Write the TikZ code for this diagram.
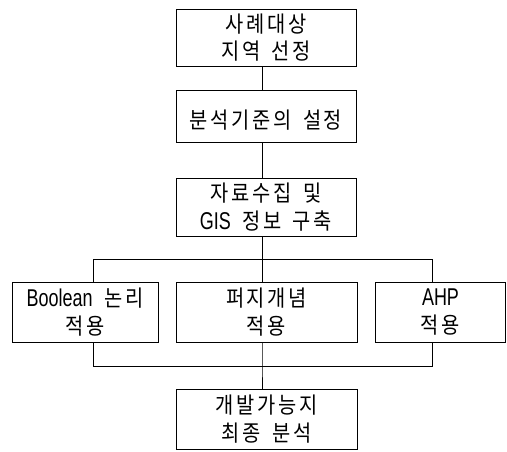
\documentclass[tikz,border=0pt]{standalone}
\usepackage{fontspec}
\setmainfont{Noto Sans CJK KR}[FakeStretch=0.88,LetterSpace=12,WordSpace=1.6]
\newfontfamily\lat{Liberation Sans}[FakeStretch=0.74,Scale=1.08]
\begin{document}
\begin{tikzpicture}[x=1pt,y=-1pt,
  box/.style={draw,line width=0.9pt,inner sep=0pt,align=center,font=\fontsize{22.5}{27.5}\selectfont,
    execute at begin node={\rule{0pt}{27pt}}},
  conn/.style={line width=0.9pt}]
\useasboundingbox (0,0) rectangle (507,451);
\node[box,minimum width=180,minimum height=57] (b1) at (266,37.5) {사례대상\\지역 선정};
\node[box,minimum width=180,minimum height=52] (b2) at (266,116) {분석기준의 설정};
\node[box,minimum width=180,minimum height=58] (b3) at (266,207) {자료수집 및\\{\lat GIS} 정보 구축};
\node[box,minimum width=146,minimum height=60] (a) at (85,312) {{\lat Boolean} 논리\\적용};
\node[box,minimum width=181,minimum height=60] (f) at (266.5,312) {퍼지개념\\적용};
\node[box,minimum width=130,minimum height=60] (h) at (440.5,312) {{\lat AHP}\\적용};
\node[box,minimum width=181,minimum height=60] (e) at (266.5,419) {개발가능지\\최종 분석};
\coordinate (top) at (262,259);
\coordinate (tl) at (93,259);
\coordinate (tr) at (432,259);
\coordinate (bot) at (262,366);
\coordinate (bl) at (93,366);
\coordinate (br) at (432,366);
\draw[conn] (b1.south -| top) -- (b2.north -| top);
\draw[conn] (b2.south -| top) -- (b3.north -| top);
\draw[conn] (b3.south -| top) -- (top);
\draw[conn] (a.north -| tl) -- (tl) -- (tr) -- (h.north -| tr);
\draw[conn] (top) -- (f.north -| top);
\draw[conn] (a.south -| bl) -- (bl) -- (br) -- (h.south -| br);
\draw[conn] (f.south -| bot) -- (bot) -- (e.north -| bot);
\end{tikzpicture}
\end{document}
